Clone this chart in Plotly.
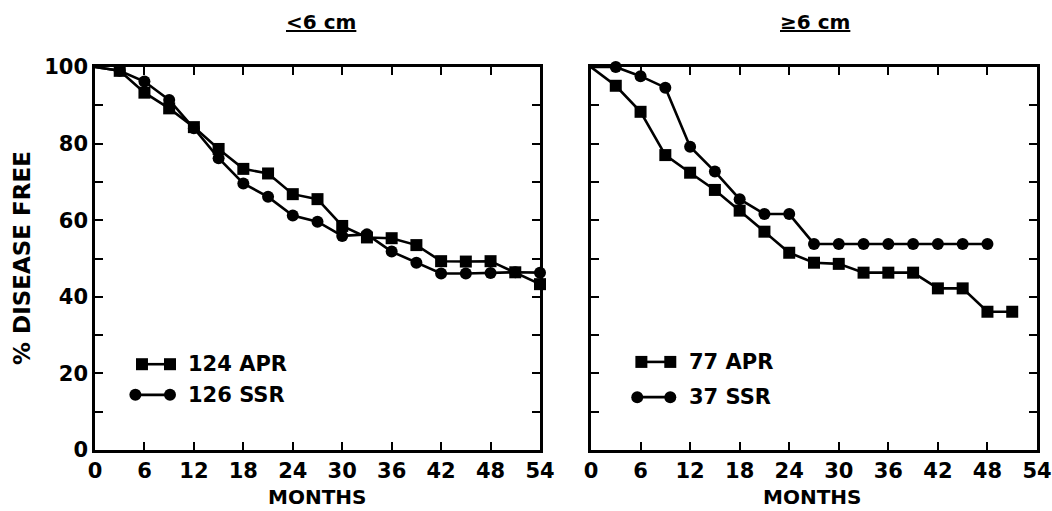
import plotly.graph_objects as go

# ---- data ----
months_apr_small = [0, 3, 6, 9, 12, 15, 18, 21, 24, 27, 30, 33, 36, 39, 42, 45, 48, 51, 54]
apr_small = [100, 99.0, 93.3, 89.2, 84.3, 78.6, 73.4, 72.2, 66.8, 65.5, 58.5, 55.5, 55.3, 53.5, 49.3, 49.2, 49.3, 46.4, 43.3]
months_ssr_small = [0, 3, 6, 9, 12, 15, 18, 21, 24, 27, 30, 33, 36, 39, 42, 45, 48, 51, 54]
ssr_small = [100, 99.0, 96.2, 91.4, 84.0, 76.2, 69.6, 66.1, 61.2, 59.6, 55.9, 56.3, 51.8, 48.9, 46.1, 46.1, 46.2, 46.4, 46.3]

months_apr_large = [0, 3, 6, 9, 12, 15, 18, 21, 24, 27, 30, 33, 36, 39, 42, 45, 48, 51]
apr_large = [100, 95.1, 88.3, 77.0, 72.4, 67.9, 62.5, 57.0, 51.5, 48.9, 48.6, 46.3, 46.3, 46.3, 42.2, 42.2, 36.1, 36.1]
months_ssr_large = [0, 3, 6, 9, 12, 15, 18, 21, 24, 27, 30, 33, 36, 39, 42, 45, 48]
ssr_large = [100, 100, 97.6, 94.6, 79.2, 72.7, 65.5, 61.6, 61.6, 53.8, 53.8, 53.8, 53.8, 53.8, 53.8, 53.8, 53.8]

panel_titles = ["<6 cm", "\u22656 cm"]
legend_small = ["124 APR", "126 SSR"]
legend_large = ["77 APR", "37 SSR"]
x_ticks = [0, 6, 12, 18, 24, 30, 36, 42, 48, 54]
y_ticks = [0, 10, 20, 30, 40, 50, 60, 70, 80, 90, 100]
y_labels = ["0", "", "20", "", "40", "", "60", "", "80", "", "100"]

# legend key positions (data coords of each panel)
key_small_apr = ([5.7, 9.1], [22.4, 22.4])
key_small_ssr = ([4.9, 9.1], [14.4, 14.4])
key_large_apr = ([6.1, 9.6], [23.0, 23.0])
key_large_ssr = ([5.6, 9.6], [13.8, 13.8])

FONT = "DejaVu Sans"
LW = 2.6
MS = 12

fig = go.Figure()

def add_series(x, y, symbol, xa, ya):
    sizes = [0] + [MS] * (len(x) - 1)
    fig.add_trace(go.Scatter(
        x=x, y=y, mode="lines+markers", xaxis=xa, yaxis=ya,
        line=dict(color="black", width=LW),
        marker=dict(symbol=symbol, size=sizes, color="black", opacity=1,
                    line=dict(color="black", width=0)),
        showlegend=False, cliponaxis=False, hoverinfo="skip"))

add_series(months_apr_small, apr_small, "square", "x", "y")
add_series(months_ssr_small, ssr_small, "circle", "x", "y")
add_series(months_apr_large, apr_large, "square", "x2", "y2")
add_series(months_ssr_large, ssr_large, "circle", "x2", "y2")

for (kx, ky), sym, xa, ya in [
        (key_small_apr, "square", "x", "y"), (key_small_ssr, "circle", "x", "y"),
        (key_large_apr, "square", "x2", "y2"), (key_large_ssr, "circle", "x2", "y2")]:
    fig.add_trace(go.Scatter(x=kx, y=ky, mode="lines+markers", xaxis=xa, yaxis=ya,
                             line=dict(color="black", width=LW),
                             marker=dict(symbol=sym, size=MS, color="black", opacity=1),
                             showlegend=False, hoverinfo="skip"))

xdom1 = [95 / 1052, 540 / 1052]
xdom2 = [591 / 1052, 1037 / 1052]
ydom = [(511 - 450) / 511, (511 - 67) / 511]

axis_common = dict(showline=True, linecolor="black", linewidth=2.5, mirror="ticks",
                   ticks="inside", ticklen=8, tickwidth=1.5, tickcolor="black",
                   showgrid=False, zeroline=False, automargin=False,
                   tickfont=dict(family=FONT, size=21, color="black", weight="bold"))

fig.update_layout(
    width=1052, height=511,
    margin=dict(l=0, r=0, t=0, b=0),
    paper_bgcolor="white", plot_bgcolor="white",
    xaxis=dict(domain=xdom1, range=[0, 54], tickvals=x_ticks, anchor="y", **axis_common),
    yaxis=dict(domain=ydom, range=[0, 100], tickvals=y_ticks, ticktext=y_labels, anchor="x", **axis_common),
    xaxis2=dict(domain=xdom2, range=[0, 54], tickvals=x_ticks, anchor="y2", **axis_common),
    yaxis2=dict(domain=ydom, range=[0, 100], tickvals=y_ticks, showticklabels=False, anchor="x2", **axis_common),
)

ann = []
def txt(x, y, s, xref="paper", yref="paper", xanchor="center", size=21, angle=0):
    ann.append(dict(x=x, y=y, xref=xref, yref=yref, text=s, showarrow=False,
                    xanchor=xanchor, yanchor="middle", textangle=angle,
                    font=dict(family=FONT, size=size, color="black", weight="bold")))

txt(321 / 1052, 1 - 22 / 511, "<u>" + panel_titles[0].replace("<", "&lt;") + "</u>", size=20)
txt(815 / 1052, 1 - 22 / 511, "<u>" + panel_titles[1] + "</u>", size=20)
txt(317 / 1052, 1 - 497 / 511, "MONTHS", size=20)
txt(812 / 1052, 1 - 497 / 511, "MONTHS", size=20)
txt(22 / 1052, 1 - 258 / 511, "% DISEASE FREE", size=23, angle=-90)

txt(11.1, key_small_apr[1][0], legend_small[0], "x", "y", "left")
txt(11.1, key_small_ssr[1][0], legend_small[1], "x", "y", "left")
txt(11.6, key_large_apr[1][0], legend_large[0], "x2", "y2", "left")
txt(11.6, key_large_ssr[1][0], legend_large[1], "x2", "y2", "left")

fig.update_layout(annotations=ann)
fig.write_html("out.html", config={"displayModeBar": False},
               post_script="document.body.style.margin='0px';")
